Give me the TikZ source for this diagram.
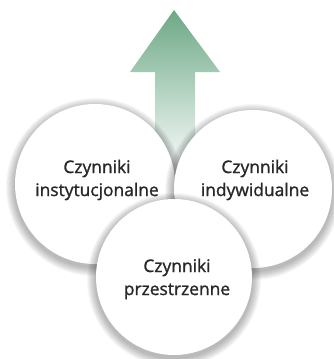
\documentclass[tikz,border=0pt]{standalone}
\usepackage{fontspec}
\setmainfont{Open Sans}
\newfontfamily\lblfont{Open Sans}[FakeBold=1.2]
\usetikzlibrary{calc}
\definecolor{arrowtop}{RGB}{108,168,134}
\definecolor{txt}{RGB}{40,40,40}
\tikzset{
  disc/.style={circle, fill=white, inner sep=0pt, minimum size=#1},
  lbl/.style={font=\lblfont\fontsize{17.4}{23}\selectfont, text=txt, align=center},
}
\newcommand{\softshadow}[2]{%
  \foreach \k in {1,...,10}{
    \fill[black, opacity=0.03] ($(#1)+(0,3)$) circle[radius=#2pt+\k*0.9pt];
  }
}
\begin{document}
\begin{tikzpicture}[x=1pt,y=-1pt]
\useasboundingbox (0,0) rectangle (333,359);
% arrow
\shade[top color=arrowtop, bottom color=white, shading angle=0]
  (174,10) -- (220,72) -- (195,72) -- (195,175) -- (155,175) -- (155,72) -- (130,72) -- cycle;
% left
\softshadow{95,184}{80}
\node[disc=160pt] (L) at (95,184) {};
\node[lbl] (Lt) at (97,180) {Czynniki\\instytucjonalne};
% right
\softshadow{253,189}{79}
\node[disc=158pt] (R) at (253,189) {};
\node[lbl] (Rt) at (255,180) {Czynniki\\indywidualne};
% bottom
\softshadow{174,277}{78}
\node[disc=156pt] (B) at (174,277) {};
\node[lbl] (Bt) at (177,279) {Czynniki\\przestrzenne};
\end{tikzpicture}
\end{document}
